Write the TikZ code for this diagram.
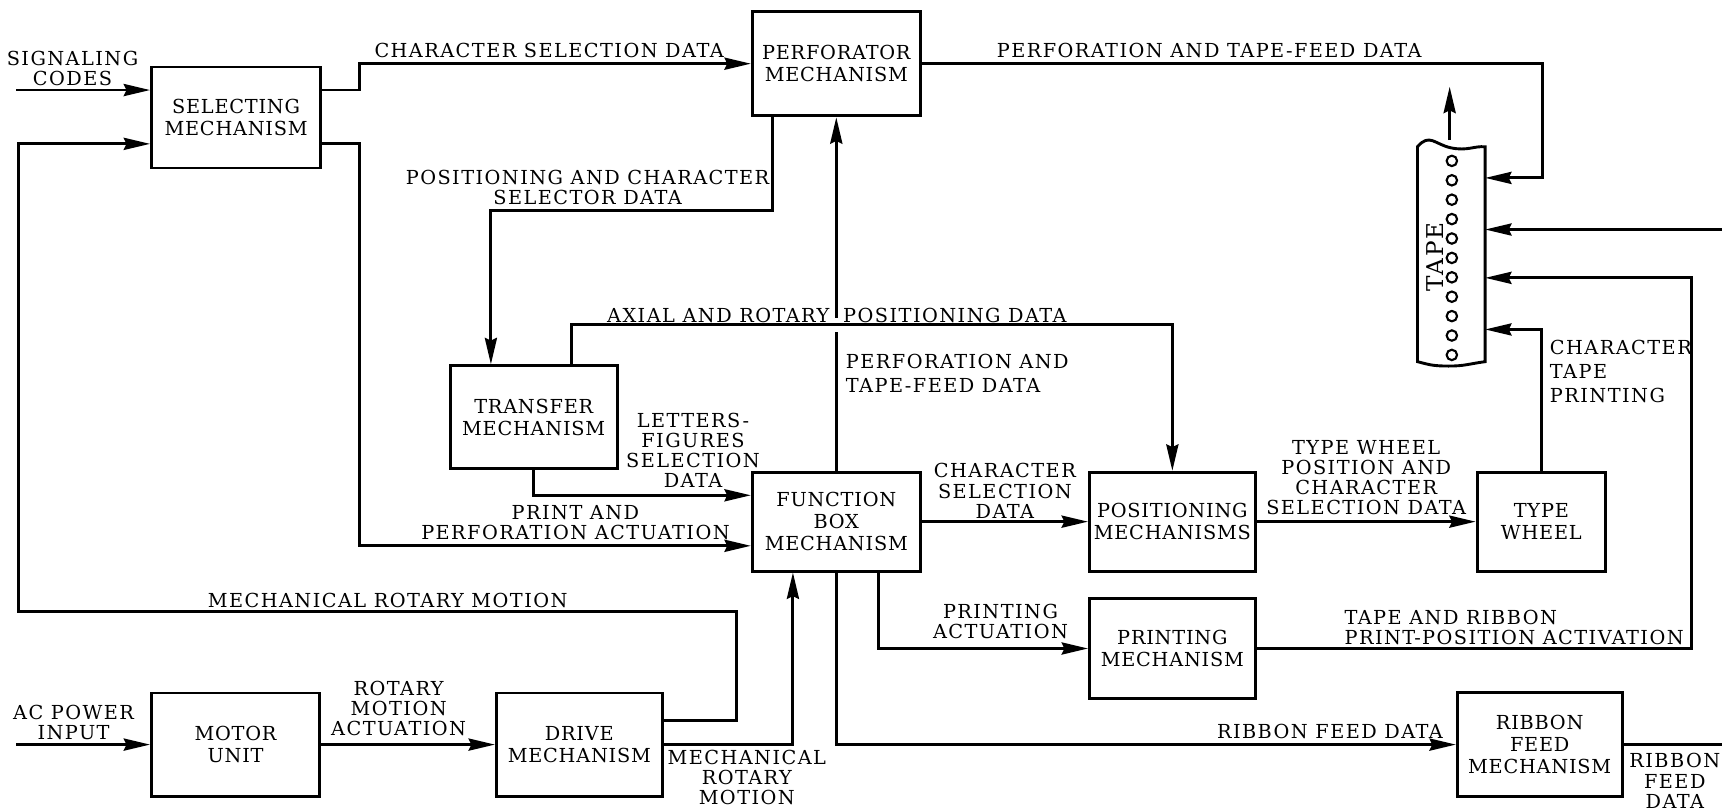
\documentclass[tikz,border=0pt]{standalone}
\usepackage{fontspec}
\setmainfont{DejaVu Serif}[LetterSpace=7.5]
\newfontfamily\boxfont{DejaVu Serif}[LetterSpace=4]
\usetikzlibrary{arrows.meta}
\newcommand{\lblsize}{\fontsize{10}{10.4}\selectfont}
\newcommand{\boxsize}{\boxfont\fontsize{10}{11.5}\selectfont}
\newcommand{\widesize}{\fontsize{10}{12.5}\selectfont}

\begin{document}
\begin{tikzpicture}[->,>={Stealth[length=4.8mm,width=2.2mm,inset=0.5mm]},line width=1.5pt,
        block/.style={draw,align=center,inner sep=1pt,font=\boxsize},
        lbl/.style={align=center,inner sep=0pt,font=\lblsize}]

    \useasboundingbox (0,0) rectangle (31.36,-14.76);

    \node[block, minimum width=3.08cm, minimum height=1.84cm] (sel) at (4.30,-2.14) {SELECTING\\MECHANISM};
    \node[block, minimum width=3.06cm, minimum height=1.90cm] (perf) at (15.23,-1.16) {PERFORATOR\\MECHANISM};
    \node[block, minimum width=3.04cm, minimum height=1.88cm] (trans) at (9.72,-7.60) {TRANSFER\\MECHANISM};
    \node[block, minimum width=3.06cm, minimum height=1.80cm] (func) at (15.23,-9.50) {FUNCTION\\BOX\\MECHANISM};
    \node[block, minimum width=3.02cm, minimum height=1.80cm] (pos) at (21.35,-9.50) {POSITIONING\\MECHANISMS};
    \node[block, minimum width=2.34cm, minimum height=1.80cm] (wheel) at (28.07,-9.50) {TYPE\\WHEEL};
    \node[block, minimum width=3.02cm, minimum height=1.82cm] (print) at (21.35,-11.81) {PRINTING\\MECHANISM};
    \node[block, minimum width=3.06cm, minimum height=1.88cm] (motor) at (4.29,-13.56) {MOTOR\\UNIT};
    \node[block, minimum width=3.02cm, minimum height=1.88cm] (drive) at (10.55,-13.56) {DRIVE\\MECHANISM};
    \node[block, minimum width=3.00cm, minimum height=1.90cm] (ribbon) at (28.04,-13.56) {RIBBON\\FEED\\MECHANISM};
    \node[minimum width=1.18cm, minimum height=3.86cm, inner sep=0pt] (tape) at (26.43,-4.63) {};

    \coordinate (sigin) at (0.30,-1.64);
    \coordinate (acin) at (0.30,-13.56);
    \coordinate (tapefar) at (31.40,-4.18);
    \coordinate (ribbonout) at (31.40,-13.56);
    \coordinate (tapeout) at (26.40,-1.58);

    % paper tape
    \draw[-] (tape.south west) -- (tape.north west)
        .. controls +(0.22,0.26) and +(-0.3,0.06) .. ([yshift=-0.02cm]tape.north)
        .. controls +(0.3,-0.06) and +(-0.2,0.02) .. (tape.north east)
        -- (tape.south east)
        .. controls +(-0.3,-0.04) and +(0.3,0) .. ([xshift=-0.05cm,yshift=-0.08cm]tape.south)
        .. controls +(-0.3,0) and +(0.2,-0.05) .. (tape.south west) -- cycle;
    \foreach \k in {0,...,10}
        \draw[-,line width=1.1pt] (26.44,{-2.93-0.3534*\k}) circle (0.095);
    \node[lbl, rotate=90, font=\fontsize{12}{12}\selectfont] (tapelbl) at (26.14,-4.68) {TAPE};

    \draw (sigin) -- (sigin -| sel.west);
    \draw ([yshift=0.44cm]drive.east) -- ++(1.32,0) |- (0.34,-11.14) |- ([yshift=-0.48cm]sel.west);
    \draw ([yshift=0.50cm]sel.east) -- ++(0.68,0) |- (perf.west);
    \draw ([yshift=-0.48cm]sel.east) -- ++(0.68,0) |- ([yshift=-0.44cm]func.west);
    \draw ([xshift=-1.17cm]perf.south) -- ++(0,-1.69) -| ([xshift=-0.78cm]trans.north);
    \draw (func.north) -- ([yshift=2.53cm]func.north) ([yshift=2.79cm]func.north) -- (perf.south);
    \draw ([xshift=0.68cm]trans.north) -- ++(0,0.72) -| (pos.north);
    \draw (trans.south) |- ([yshift=0.48cm]func.west);
    \draw (func.east) -- (pos.west);
    \draw (pos.east) -- (wheel.west);
    \draw (wheel.north) |- ([yshift=-1.37cm]tape.east);
    \draw (perf.east) -- ++(11.30,0) |- ([yshift=1.39cm]tape.east);
    \draw (tapefar) -- (tapefar -| tape.east);
    \draw (print.east) -- ++(7.92,0) |- ([yshift=-0.43cm]tape.east);
    \draw ([xshift=0.77cm]func.south) |- (print.west);
    \draw (func.south) |- (ribbon.west);
    \draw (drive.east) -| ([xshift=-0.79cm]func.south);
    \draw (acin) -- (motor.west);
    \draw (motor.east) -- (drive.west);
    \draw[-] (ribbon.east) -- (ribbonout);
    \draw ([xshift=-0.03cm,yshift=0.12cm]tape.north) -- (tapeout);

    \node[lbl] (l-sig) at (1.32,-1.24) {SIGNALING\\CODES};
    \node[lbl] (l-csd) at (10.00,-0.92) {CHARACTER SELECTION DATA};
    \node[lbl] (l-ptf) at (22.02,-0.92) {PERFORATION AND TAPE-FEED DATA};
    \node[lbl] (l-pcs) at (10.70,-3.42) {POSITIONING AND CHARACTER\\SELECTOR DATA};
    \node[lbl, anchor=east] (l-axr) at (15.13,-5.74) {AXIAL AND ROTARY};
    \node[lbl, anchor=west] (l-axp) at (15.33,-5.74) {POSITIONING DATA};
    \node[lbl, align=left, anchor=west, font=\widesize] (l-ptd) at (15.38,-6.80) {PERFORATION AND\\TAPE-FEED DATA};
    \node[lbl] (l-lfs) at (12.62,-8.20) {LETTERS-\\FIGURES\\SELECTION\\DATA};
    \node[lbl] (l-ppa) at (10.48,-9.52) {PRINT AND\\PERFORATION ACTUATION};
    \node[lbl] (l-cs) at (18.30,-8.94) {CHARACTER\\SELECTION\\DATA};
    \node[lbl] (l-tw) at (24.88,-8.70) {TYPE WHEEL\\POSITION AND\\CHARACTER\\SELECTION DATA};
    \node[lbl, align=left, anchor=west, font=\widesize] (l-ctp) at (28.20,-6.76) {CHARACTER\\TAPE\\PRINTING};
    \node[lbl, align=left, anchor=west] (l-trp) at (24.46,-11.42) {TAPE AND RIBBON\\PRINT-POSITION ACTIVATION};
    \node[lbl] (l-pa) at (18.22,-11.32) {PRINTING\\ACTUATION};
    \node[lbl] (l-mrm) at (7.06,-10.94) {MECHANICAL ROTARY MOTION};
    \node[lbl] (l-ac) at (1.34,-13.15) {AC POWER\\INPUT};
    \node[lbl] (l-rma) at (7.26,-12.90) {ROTARY\\MOTION\\ACTUATION};
    \node[lbl] (l-mrm2) at (13.60,-14.16) {MECHANICAL\\ROTARY\\MOTION};
    \node[lbl] (l-rfd) at (24.22,-13.33) {RIBBON FEED DATA};
    \node[lbl] (l-rfd2) at (30.50,-14.22) {RIBBON\\FEED\\DATA};

\end{tikzpicture}
\end{document}
